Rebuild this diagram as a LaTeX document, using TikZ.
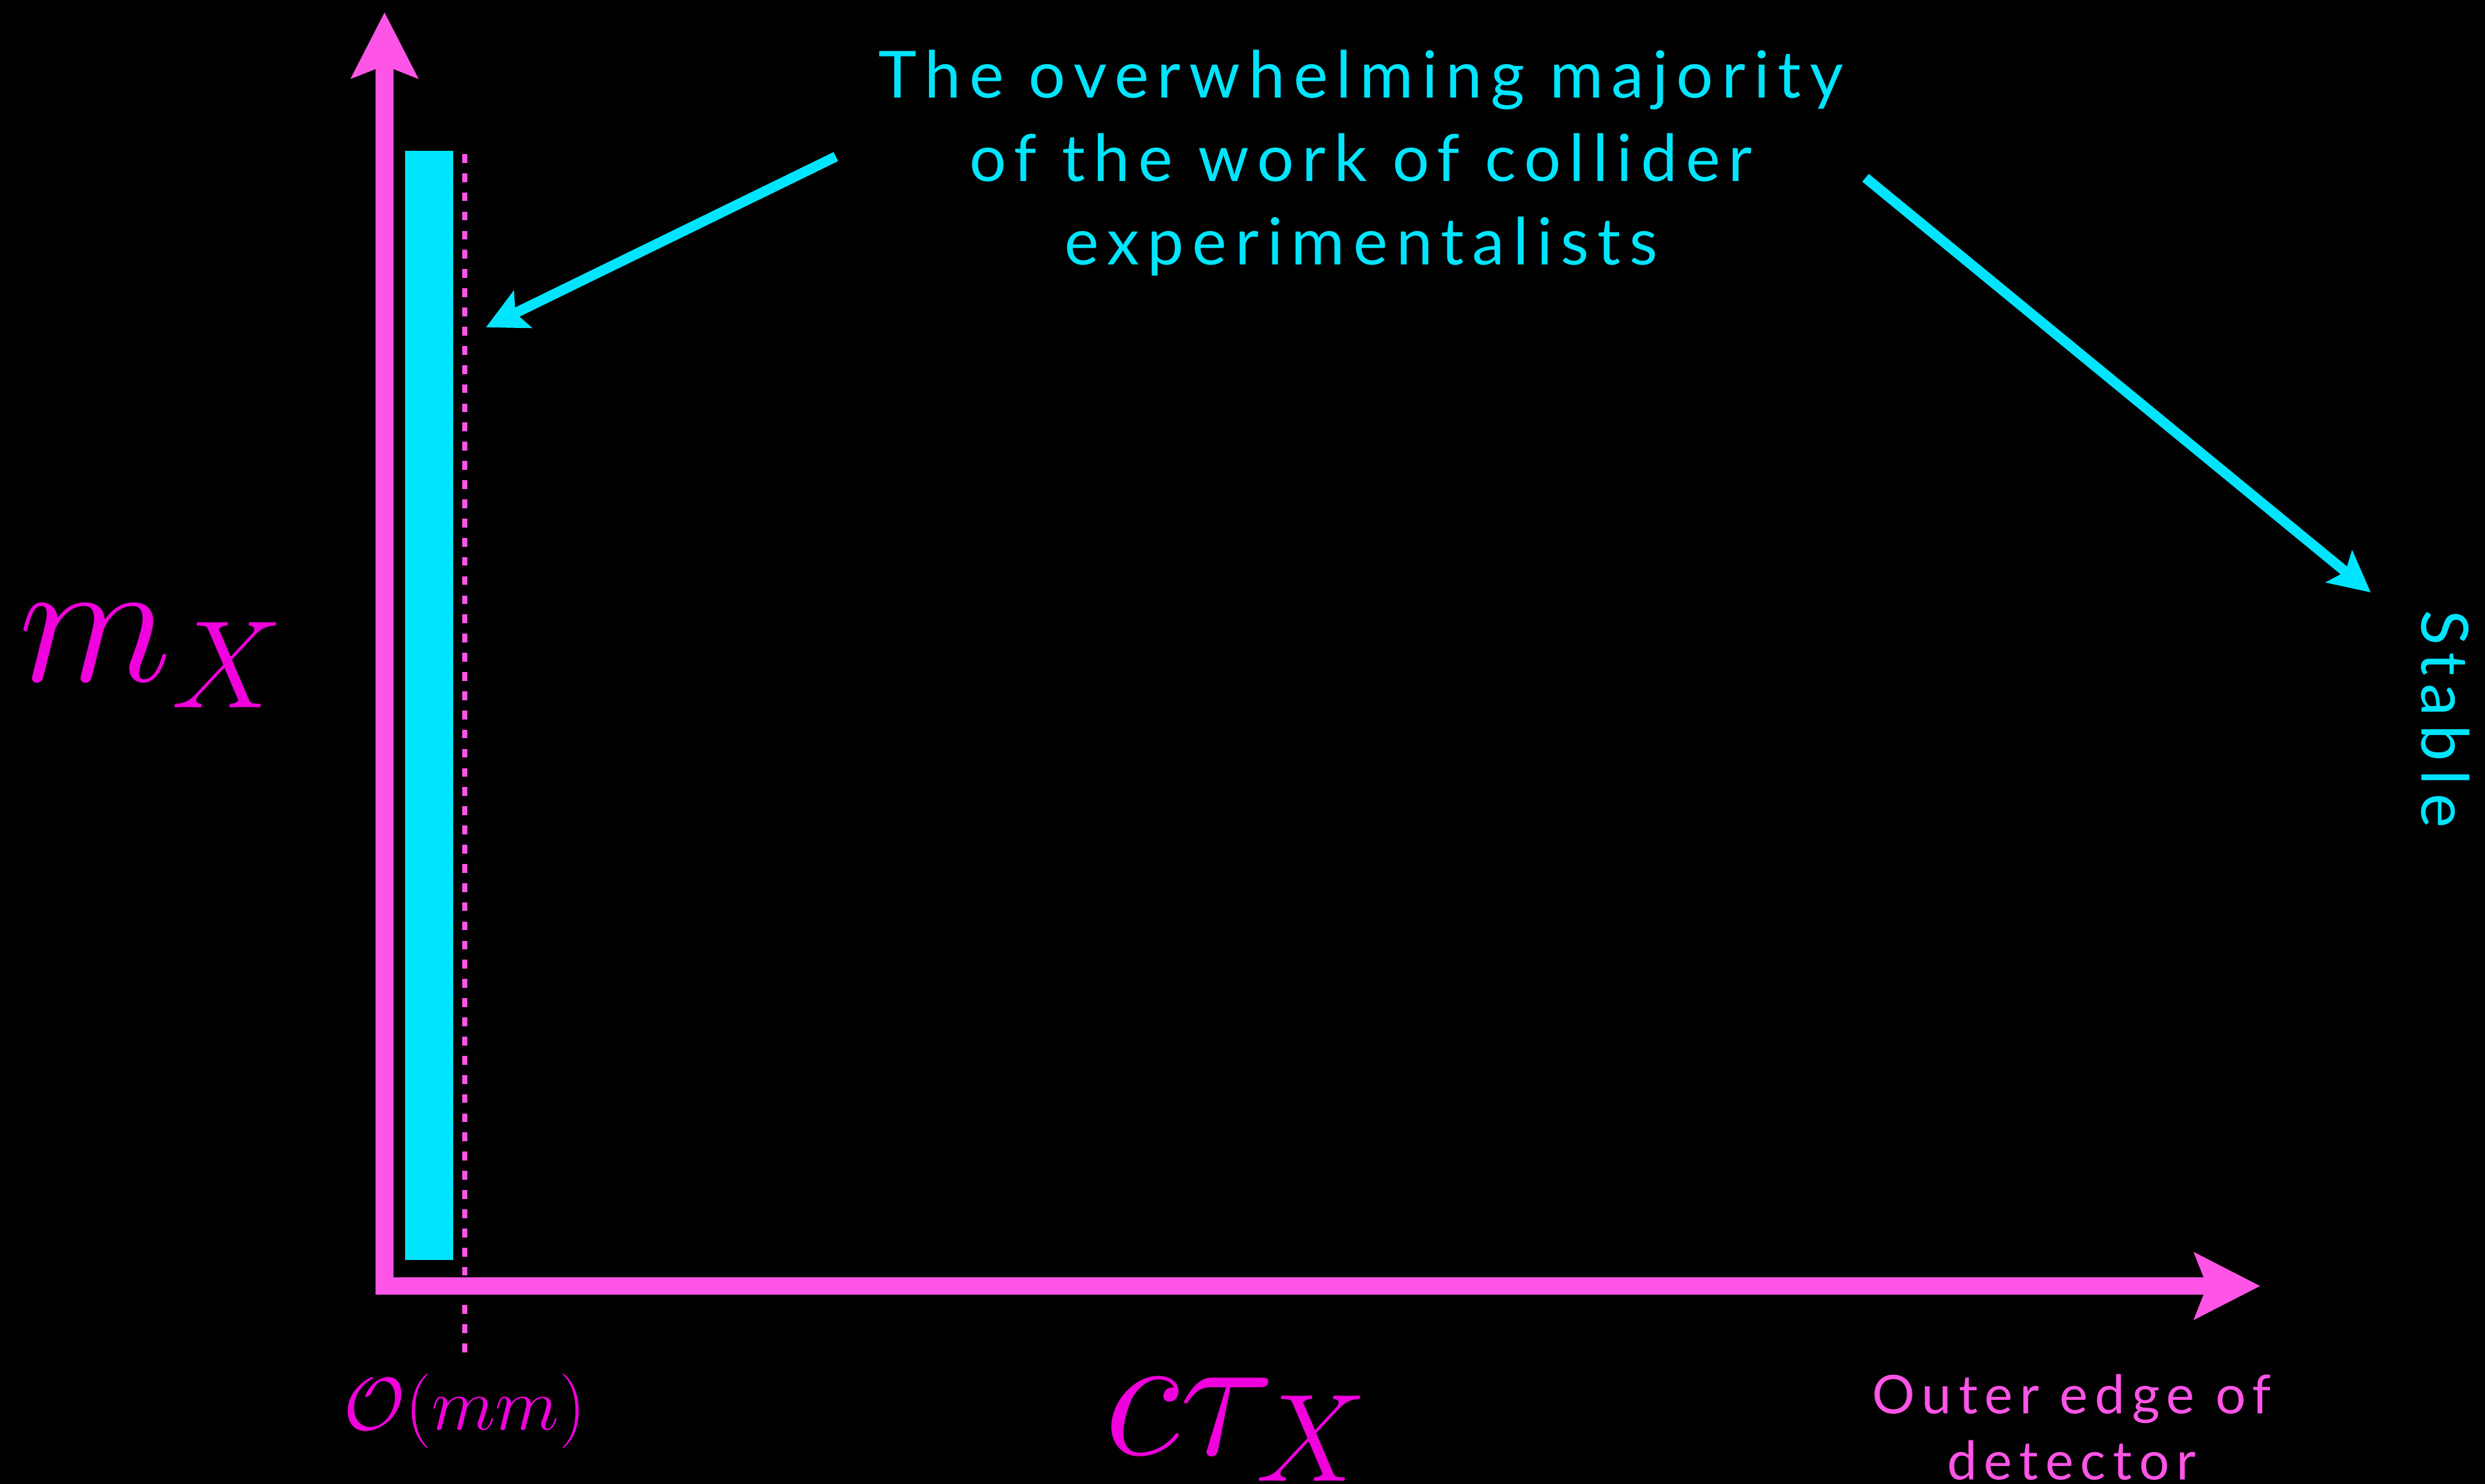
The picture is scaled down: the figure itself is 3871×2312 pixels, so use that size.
\documentclass[tikz,border=0pt]{standalone}
\usepackage{fix-cm}
\usepackage{fontspec}
\usetikzlibrary{arrows.meta}
\newfontfamily\notefont[LetterSpace=13]{Lato}
\definecolor{slidecyan}{HTML}{00E5FF}
\definecolor{axispink}{HTML}{FF55E6}
\definecolor{mathpink}{HTML}{F000DC}

\begin{document}
\begin{tikzpicture}[
  x=0.01cm, y=-0.01cm,
  axis/.style={draw=axispink, line width=7.7pt,
    -{Stealth[length=29pt, width=29pt, inset=5.4pt]}},
  pointer/.style={draw=slidecyan, line width=4.5pt,
    -{Stealth[length=18pt, width=18pt, inset=3.5pt]}},
  note/.style={text=slidecyan, font=\notefont\fontsize{28.8}{37}\selectfont,
    align=center, inner sep=0pt},
  edgenote/.style={text=axispink, font=\notefont\fontsize{23.7}{29.3}\selectfont,
    align=center, inner sep=0pt},
  mathlabel/.style={text=mathpink, inner sep=0pt, anchor=base},
]
  \fill[black] (0,0) rectangle (3871,2312);
  \useasboundingbox (0,0) rectangle (3871,2312);

  % axes
  \coordinate (origin) at (599,2017);
  \coordinate (ytip) at (599,19);
  \coordinate (xstart) at (599,2003.5);
  \coordinate (xtip) at (3521,2003.5);
  \draw[axis] (origin) -- (ytip);
  \draw[axis] (xstart) -- (xtip);

  % prompt decays
  \fill[slidecyan] (631,235) rectangle (706,1963);
  \coordinate (mm-top) at (724,240);
  \coordinate (mm-bottom) at (724,2110);
  \draw[axispink, line width=2.3pt, dash pattern=on 3.9pt off 4.6pt]
    (mm-top) -- (mm-bottom);

  % labels
  \node[note, anchor=north] (majority) at (2120,77)
    {The overwhelming majority\\of the work of collider\\experimentalists};
  \node[note, rotate=-90, anchor=base] (stable) at (3772,1120) {Stable};
  \node[edgenote, anchor=north] (edge) at (3227,2140) {Outer edge of\\detector};
  \node[mathlabel, font=\fontsize{79}{90}\selectfont] (mass) at (236,1061) {$m_X$};
  \node[mathlabel, font=\fontsize{79}{90}\selectfont] (lifetime) at (1926,2266)
    {$c\tau_X$};
  \node[mathlabel, font=\fontsize{33}{40}\selectfont] (mm) at (724,2227)
    {$\mathcal{O}(mm)$};

  % pointers
  \coordinate (left-from) at (1302,244);
  \coordinate (left-to) at (757,510);
  \coordinate (right-from) at (2906,277);
  \coordinate (right-to) at (3693,923);
  \draw[pointer] (left-from) -- (left-to);
  \draw[pointer] (right-from) -- (right-to);
\end{tikzpicture}
\end{document}
